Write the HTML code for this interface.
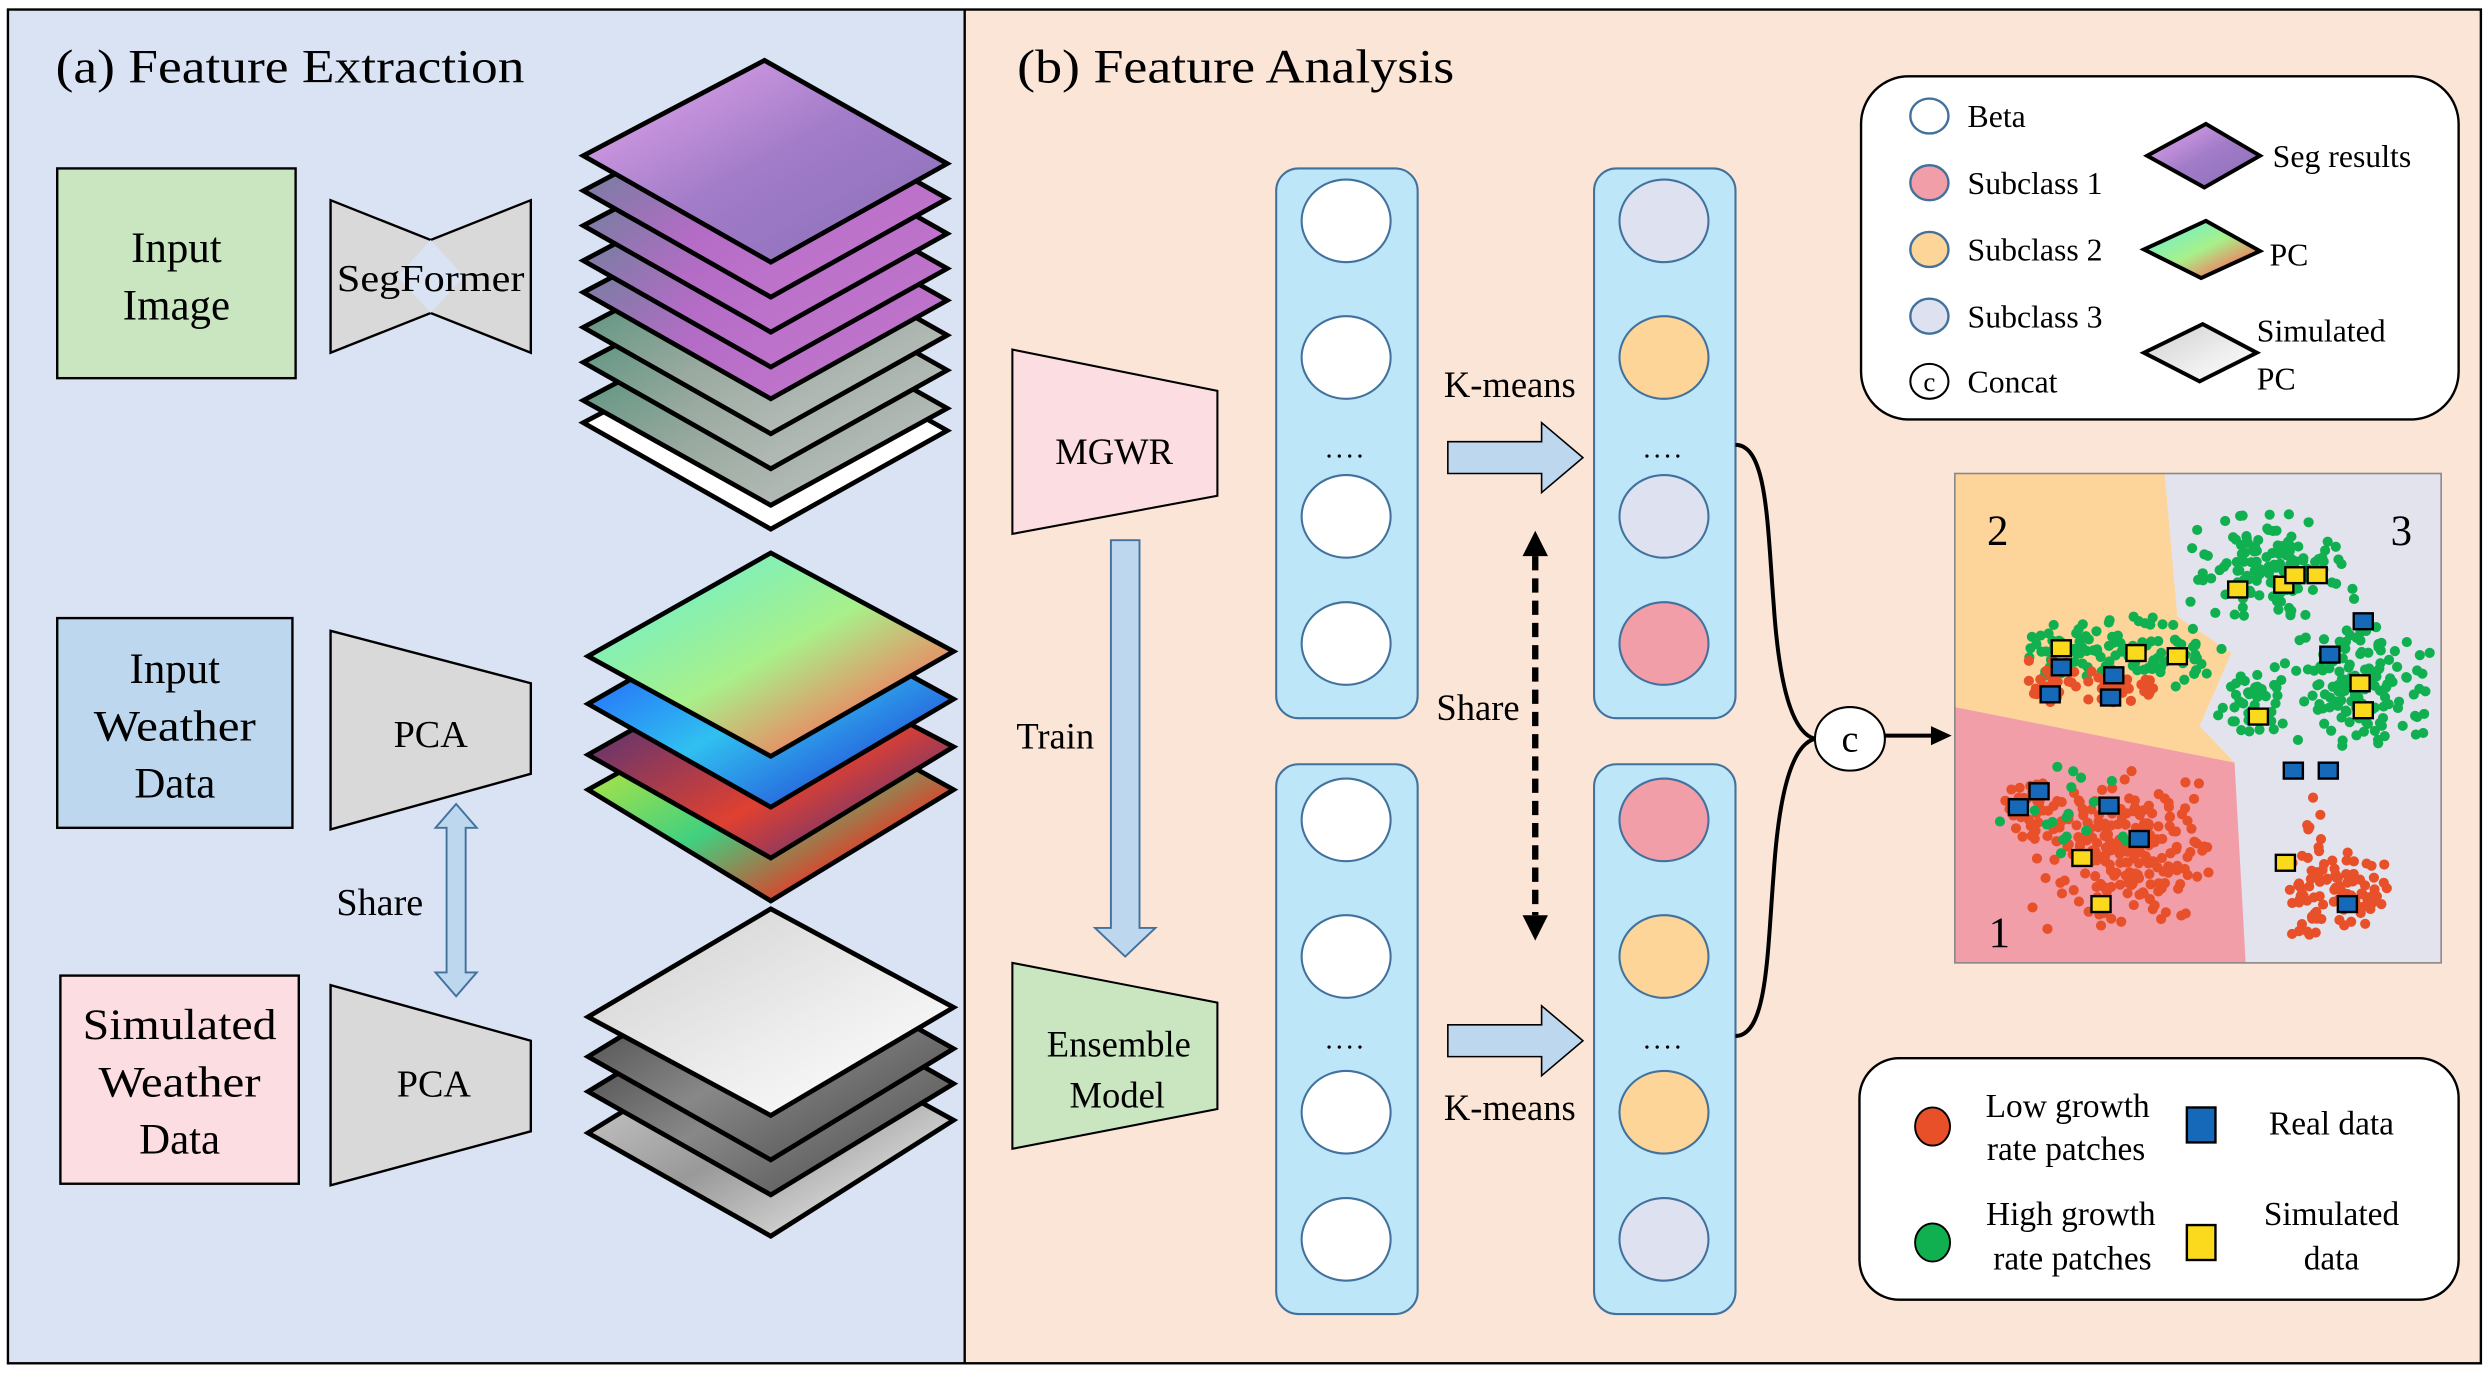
<!DOCTYPE html>
<html><head><meta charset="utf-8"><style>
html,body{margin:0;padding:0;background:#fff;}
svg{display:block;}
svg text{font-family:"Liberation Serif","Times New Roman",serif;fill:#000;}
</style></head><body>
<svg id="s" width="2492" height="1376" viewBox="0 0 1568 866" preserveAspectRatio="none" xmlns="http://www.w3.org/2000/svg" font-family="'Liberation Serif', serif">
<defs>
<linearGradient id="gSeg" x1="0" y1="0" x2="1" y2="1"><stop offset="0" stop-color="#e9a8f0"/><stop offset="0.5" stop-color="#a27cc8"/><stop offset="1" stop-color="#8a6fb8"/></linearGradient>
<linearGradient id="gSegL" x1="0" y1="0" x2="1" y2="1"><stop offset="0" stop-color="#4f8a88"/><stop offset="0.5" stop-color="#b46cc6"/><stop offset="1" stop-color="#c97ad0"/></linearGradient>
<linearGradient id="gSegG" x1="0" y1="0" x2="1" y2="1"><stop offset="0" stop-color="#3f8a70"/><stop offset="0.5" stop-color="#9aaaa0"/><stop offset="1" stop-color="#c8c8c8"/></linearGradient>
<linearGradient id="gPC" x1="0" y1="0" x2="1" y2="1"><stop offset="0" stop-color="#5ef0e0"/><stop offset="0.5" stop-color="#a8f08a"/><stop offset="0.8" stop-color="#f08060"/><stop offset="1" stop-color="#ffffff"/></linearGradient>
<linearGradient id="gPC2" x1="0" y1="0" x2="1" y2="1"><stop offset="0" stop-color="#2040ff"/><stop offset="0.5" stop-color="#30c0f0"/><stop offset="1" stop-color="#2020d0"/></linearGradient>
<linearGradient id="gPC3" x1="0" y1="0" x2="1" y2="1"><stop offset="0" stop-color="#203090"/><stop offset="0.6" stop-color="#e04030"/><stop offset="1" stop-color="#2030a0"/></linearGradient>
<linearGradient id="gPC4" x1="0" y1="0" x2="1" y2="1"><stop offset="0" stop-color="#f0f020"/><stop offset="0.5" stop-color="#40d080"/><stop offset="0.8" stop-color="#f03020"/><stop offset="1" stop-color="#ffffff"/></linearGradient>
<linearGradient id="gSim" x1="0" y1="0" x2="1" y2="1"><stop offset="0" stop-color="#cfcfcf"/><stop offset="0.6" stop-color="#eeeeee"/><stop offset="1" stop-color="#ffffff"/></linearGradient>
<linearGradient id="gSim2" x1="0" y1="0" x2="1" y2="1"><stop offset="0" stop-color="#333"/><stop offset="0.5" stop-color="#888"/><stop offset="1" stop-color="#444"/></linearGradient>
<linearGradient id="gSim3" x1="0" y1="0" x2="1" y2="1"><stop offset="0" stop-color="#ddd"/><stop offset="0.5" stop-color="#999"/><stop offset="1" stop-color="#fff"/></linearGradient>
<clipPath id="cl"><rect x="1230" y="298" width="306" height="308"/></clipPath>
</defs>

<rect x="5" y="6" width="602" height="852" fill="#dae3f3"/>
<rect x="607" y="6" width="954" height="852" fill="#fbe5d6"/>
<rect x="5" y="6" width="1556" height="852" fill="none" stroke="#000" stroke-width="1.5"/>
<line x1="607" y1="6" x2="607" y2="858" stroke="#000" stroke-width="1.5"/>

<text x="35" y="52" font-size="30" textLength="295" lengthAdjust="spacingAndGlyphs">(a) Feature Extraction</text>
<text x="640" y="52" font-size="30" textLength="275" lengthAdjust="spacingAndGlyphs">(b) Feature Analysis</text>

<rect x="36" y="106" width="150" height="132" fill="#c9e6c0" stroke="#000" stroke-width="1.5"/>
<text x="111" y="165" font-size="27" text-anchor="middle">Input</text>
<text x="111" y="201" font-size="27" text-anchor="middle">Image</text>

<polygon points="208,126 271,151 334,126 334,222 271,197 208,222" fill="#d9d9d9" stroke="#000" stroke-width="1.5"/>
<polygon points="271,151 292,174 271,197 250,174" fill="#dae3f3"/>
<text x="271" y="183" font-size="24" text-anchor="middle" textLength="118" lengthAdjust="spacingAndGlyphs">SegFormer</text>

<rect x="36" y="389" width="148" height="132" fill="#bdd7ee" stroke="#000" stroke-width="1.5"/>
<text x="110" y="430" font-size="27" text-anchor="middle">Input</text>
<text x="110" y="466" font-size="27" text-anchor="middle" textLength="102" lengthAdjust="spacingAndGlyphs">Weather</text>
<text x="110" y="502" font-size="27" text-anchor="middle">Data</text>
<polygon points="208,397 334,430 334,487 208,522" fill="#d9d9d9" stroke="#000" stroke-width="1.5"/>
<text x="271" y="470" font-size="24" text-anchor="middle">PCA</text>

<polygon points="287,506 300,521 293,521 293,612 300,612 287,627 274,612 281,612 281,521 274,521" fill="#bdd7ee" stroke="#41719c" stroke-width="1.2"/>
<text x="239" y="576" font-size="24" text-anchor="middle">Share</text>

<rect x="38" y="614" width="150" height="131" fill="#fbdde2" stroke="#000" stroke-width="1.5"/>
<text x="113" y="654" font-size="27" text-anchor="middle" textLength="122" lengthAdjust="spacingAndGlyphs">Simulated</text>
<text x="113" y="690" font-size="27" text-anchor="middle" textLength="102" lengthAdjust="spacingAndGlyphs">Weather</text>
<text x="113" y="726" font-size="27" text-anchor="middle">Data</text>
<polygon points="208,620 334,655 334,712 208,746" fill="#d9d9d9" stroke="#000" stroke-width="1.5"/>
<text x="273" y="690" font-size="24" text-anchor="middle">PCA</text>

<g stroke="#000" stroke-width="3" stroke-linejoin="miter">
<polygon points="481,206 596,271 485,333 367,266" fill="#fff"/>
<polygon points="481,192 596,257 485,318 367,252" fill="url(#gSegG)"/>
<polygon points="481,168 596,233 485,295 367,228" fill="url(#gSegG)"/>
<polygon points="481,146 596,211 485,273 367,206" fill="url(#gSegG)"/>
<polygon points="481,124 596,189 485,251 367,184" fill="url(#gSegL)"/>
<polygon points="481,104 596,169 485,231 367,164" fill="url(#gSegL)"/>
<polygon points="481,82 596,147 485,209 367,142" fill="url(#gSegL)"/>
<polygon points="481,60 596,125 485,187 367,120" fill="url(#gSegL)"/>
<polygon points="481,38 596,103 485,165 367,98" fill="url(#gSeg)"/>
</g>
<g stroke="#000" stroke-width="3">
<polygon points="485,433 600,497 485,567 370,497" fill="url(#gPC4)"/>
<polygon points="485,410 600,470 485,540 370,475" fill="url(#gPC3)"/>
<polygon points="485,377 600,440 485,508 370,443" fill="url(#gPC2)"/>
<polygon points="485,348 600,410 485,476 370,413" fill="url(#gPC)"/>
</g>
<g stroke="#000" stroke-width="3">
<polygon points="485,642 600,705 485,778 370,713" fill="url(#gSim3)"/>
<polygon points="485,617 600,682 485,752 370,687" fill="url(#gSim2)"/>
<polygon points="485,595 600,660 485,730 370,665" fill="url(#gSim2)"/>
<polygon points="485,572 600,634 485,702 370,640" fill="url(#gSim)"/>
</g>

<polygon points="637,220 766,246 766,312 637,336" fill="#fbdde2" stroke="#000" stroke-width="1.3"/>
<text x="701" y="292" font-size="23" text-anchor="middle">MGWR</text>
<polygon points="699,340 717,340 717,584 727,584 708,602 689,584 699,584" fill="#bdd7ee" stroke="#41719c" stroke-width="1.2"/>
<text x="664" y="471" font-size="23" text-anchor="middle">Train</text>
<polygon points="637,606 766,631 766,698 637,723" fill="#c9e6c0" stroke="#000" stroke-width="1.3"/>
<text x="704" y="665" font-size="23" text-anchor="middle">Ensemble</text>
<text x="703" y="697" font-size="23" text-anchor="middle">Model</text>

<g stroke="#41719c" stroke-width="1.3">
<rect x="803" y="106" width="89" height="346" rx="14" fill="#bde6f8"/>
<rect x="803" y="481" width="89" height="346" rx="14" fill="#bde6f8"/>
<rect x="1003" y="106" width="89" height="346" rx="14" fill="#bde6f8"/>
<rect x="1003" y="481" width="89" height="346" rx="14" fill="#bde6f8"/>
<ellipse cx="847" cy="139" rx="28" ry="26" fill="#fff"/>
<ellipse cx="847" cy="225" rx="28" ry="26" fill="#fff"/>
<ellipse cx="847" cy="325" rx="28" ry="26" fill="#fff"/>
<ellipse cx="847" cy="405" rx="28" ry="26" fill="#fff"/>
<ellipse cx="847" cy="516" rx="28" ry="26" fill="#fff"/>
<ellipse cx="847" cy="602" rx="28" ry="26" fill="#fff"/>
<ellipse cx="847" cy="700" rx="28" ry="26" fill="#fff"/>
<ellipse cx="847" cy="780" rx="28" ry="26" fill="#fff"/>
<ellipse cx="1047" cy="139" rx="28" ry="26" fill="#dee1ef"/>
<ellipse cx="1047" cy="225" rx="28" ry="26" fill="#fed598"/>
<ellipse cx="1047" cy="325" rx="28" ry="26" fill="#dee1ef"/>
<ellipse cx="1047" cy="405" rx="28" ry="26" fill="#f29ea8"/>
<ellipse cx="1047" cy="516" rx="28" ry="26" fill="#f29ea8"/>
<ellipse cx="1047" cy="602" rx="28" ry="26" fill="#fed598"/>
<ellipse cx="1047" cy="700" rx="28" ry="26" fill="#fed598"/>
<ellipse cx="1047" cy="780" rx="28" ry="26" fill="#dee1ef"/>
</g>
<g font-size="18" text-anchor="middle" letter-spacing="2">
<text x="847" y="288">....</text><text x="847" y="660">....</text>
<text x="1047" y="288">....</text><text x="1047" y="660">....</text>
</g>

<polygon points="911,278 970,278 970,266 996,288 970,310 970,298 911,298" fill="#bdd7ee" stroke="#000" stroke-width="1"/>
<text x="950" y="250" font-size="23" text-anchor="middle">K-means</text>
<polygon points="911,645 970,645 970,633 996,655 970,677 970,665 911,665" fill="#bdd7ee" stroke="#000" stroke-width="1"/>
<text x="950" y="705" font-size="23" text-anchor="middle">K-means</text>

<line x1="966" y1="350" x2="966" y2="576" stroke="#000" stroke-width="4" stroke-dasharray="9,5"/>
<polygon points="966,334 958,350 974,350" fill="#000"/>
<polygon points="966,592 958,576 974,576" fill="#000"/>
<text x="930" y="453" font-size="23" text-anchor="middle">Share</text>

<path d="M1092,280 C1112,280 1112,330 1116,380 C1120,440 1130,462 1142,465" fill="none" stroke="#000" stroke-width="2.5"/>
<path d="M1092,652 C1112,652 1112,600 1116,550 C1120,490 1130,468 1142,465" fill="none" stroke="#000" stroke-width="2.5"/>
<ellipse cx="1164" cy="465" rx="22" ry="20" fill="#fff" stroke="#000" stroke-width="1.3"/>
<text x="1164" y="473" font-size="24" text-anchor="middle">c</text>
<line x1="1186" y1="463" x2="1218" y2="463" stroke="#000" stroke-width="2.5"/>
<polygon points="1228,463 1215,457 1215,469" fill="#000"/>

<rect x="1171" y="48" width="376" height="216" rx="30" fill="#fff" stroke="#000" stroke-width="1.5"/>
<g stroke="#41719c" stroke-width="1.5">
<ellipse cx="1214" cy="73" rx="12" ry="11" fill="#fff"/>
<ellipse cx="1214" cy="115" rx="12" ry="11" fill="#f29ea8"/>
<ellipse cx="1214" cy="157" rx="12" ry="11" fill="#fed598"/>
<ellipse cx="1214" cy="199" rx="12" ry="11" fill="#dee1ef"/>
</g>
<ellipse cx="1214" cy="240" rx="12" ry="11" fill="#fff" stroke="#000" stroke-width="1.3"/>
<text x="1214" y="246" font-size="17" text-anchor="middle">c</text>
<g font-size="20">
<text x="1238" y="80">Beta</text>
<text x="1238" y="122">Subclass 1</text>
<text x="1238" y="164">Subclass 2</text>
<text x="1238" y="206">Subclass 3</text>
<text x="1238" y="247">Concat</text>
<text x="1430" y="105">Seg results</text>
<text x="1428" y="167">PC</text>
<text x="1420" y="215">Simulated</text>
<text x="1420" y="245">PC</text>
</g>
<g stroke="#000" stroke-width="2.5">
<polygon points="1388,78 1422,98 1387,118 1351,98" fill="url(#gSeg)"/>
<polygon points="1388,139 1422,158 1385,175 1349,157" fill="url(#gPC)"/>
<polygon points="1386,204 1420,222 1384,240 1349,222" fill="url(#gSim)"/>
</g>

<g clip-path="url(#cl)">
<rect x="1230" y="298" width="306" height="308" fill="#e3e3ee"/>
<polygon points="1230,298 1362,298 1370,388 1404,411 1384,457 1406,480 1230,445" fill="#fdd49a"/>
<polygon points="1230,445 1406,480 1413,606 1230,606" fill="#f29ea8"/>
<g id="dots"></g>
</g>
<rect x="1230" y="298" width="306" height="308" fill="none" stroke="#888" stroke-width="1"/>
<text x="1257" y="343" font-size="27" text-anchor="middle">2</text>
<text x="1511" y="343" font-size="27" text-anchor="middle">3</text>
<text x="1258" y="596" font-size="27" text-anchor="middle">1</text>

<rect x="1170" y="666" width="377" height="152" rx="25" fill="#fff" stroke="#000" stroke-width="1.5"/>
<ellipse cx="1216" cy="709" rx="11" ry="12" fill="#e8502a" stroke="#000" stroke-width="1.2"/>
<ellipse cx="1216" cy="782" rx="11" ry="12" fill="#10b050" stroke="#000" stroke-width="1.2"/>
<rect x="1376" y="697" width="18" height="22" fill="#1668b8" stroke="#000" stroke-width="1.5"/>
<rect x="1376" y="771" width="18" height="22" fill="#fbd91c" stroke="#000" stroke-width="1.5"/>
<g font-size="21" text-anchor="middle">
<text x="1301" y="703">Low growth</text>
<text x="1300" y="730">rate patches</text>
<text x="1303" y="771">High growth</text>
<text x="1304" y="799">rate patches</text>
<text x="1467" y="714">Real data</text>
<text x="1467" y="771">Simulated</text>
<text x="1467" y="799">data</text>
</g>
</svg>
<script>
(function(){
var s=12345;function r(){s=(s*1103515245+12345)%2147483648;return s/2147483648;}
function g(){return (r()+r()-1);}
var out="";
var dg=document.getElementById("dots");
function dot(x,y,c){out+='<circle cx="'+x.toFixed(1)+'" cy="'+y.toFixed(1)+'" r="3.2" fill="'+c+'"/>';}
function cl(cx,cy,sx,sy,n,c){for(var i=0;i<n;i++)dot(cx+g()*sx,cy+g()*sy,c);}
var R="#e8502a",G="#10b050";
cl(1297,408,30,22,40,G);cl(1292,428,20,16,30,R);
cl(1350,410,50,25,80,G);cl(1335,432,28,12,30,R);
cl(1430,358,55,38,130,G);
cl(1485,432,50,42,140,G);
cl(1418,440,25,26,45,G);
cl(1277,510,25,22,35,R);
cl(1335,532,60,55,220,R);
cl(1300,520,45,45,18,G);
cl(1470,562,38,30,95,R);
cl(1455,518,8,22,8,R);
var sq=[["#1668b8",[[1297,420],[1290,437],[1330,425],[1328,439],[1270,508],[1283,498],[1327,507],[1346,528],[1487,391],[1466,412],[1443,485],[1465,485],[1477,569]]],["#fbd91c",[[1297,408],[1344,411],[1370,413],[1408,371],[1437,368],[1444,362],[1458,362],[1485,430],[1487,447],[1310,540],[1322,569],[1438,543],[1421,451]]]];
sq.forEach(function(p){p[1].forEach(function(q){out+='<rect x="'+(q[0]-6)+'" y="'+(q[1]-5)+'" width="12" height="10" fill="'+p[0]+'" stroke="#000" stroke-width="1.5"/>';});});
dg.innerHTML=out;
})();
</script>
</body></html>
